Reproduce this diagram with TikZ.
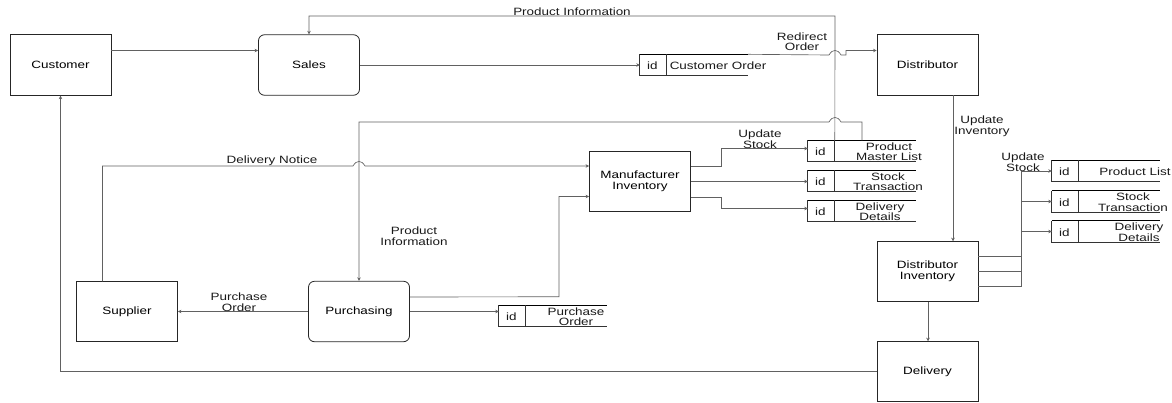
\documentclass[tikz,border=0pt]{standalone}
\usepackage{fontspec}
\setmainfont[FakeStretch=1.27]{Liberation Sans}
\usetikzlibrary{arrows.meta,calc}
\tikzset{
  lbl/.style={font=\fontsize{10.6}{10.3}\selectfont,align=center,inner sep=0pt,text=black!90,yshift=-0.8pt},
  proc/.style={draw=black!85,line width=0.8pt,minimum width=101pt,minimum height=60.5pt,inner sep=0pt,font=\fontsize{10.6}{10.5}\selectfont,align=center},
  rproc/.style={proc,rounded corners=6pt},
  storeframe/.style={minimum width=108pt,minimum height=21pt,inner sep=0pt},
  conn/.style={draw=black!62,line width=0.65pt},
  arr/.style={conn,-{Stealth[length=3.5pt,width=3.5pt]}}
}
% name, centre x, centre y, label centre x, label text
\newcommand{\datastore}[5]{%
  \node[storeframe] (#1) at (#2,#3) {};
  \draw[black!80,line width=0.8pt] (#1.north west) -- (#1.south west) -- (#1.south east);
  \draw[black,line width=1.2pt] (#1.north west) -- (#1.north east);
  \draw[black!80,line width=0.8pt] ([xshift=27pt]#1.north west) -- ([xshift=27pt]#1.south west);
  \node[lbl] (#1-id) at ($(#1.west)+(12.5,0)$) {id};
  \node[lbl] (#1-text) at (#4,#3) {#5};
}
\begin{document}
\begin{tikzpicture}[x=1pt,y=-1pt]
\useasboundingbox (0,0) rectangle (1172,402);
% process boxes
\node[proc] (customer) at (60.5,65) {Customer};
\node[rproc] (sales) at (309,65) {Sales};
\node[proc] (distributor) at (927.5,65) {Distributor};
\node[proc] (manuf) at (640,181.5) {Manufacturer\\Inventory};
\node[proc] (distinv) at (927.5,271.5) {Distributor\\Inventory};
\node[proc] (delivery) at (927.5,371.5) {Delivery};
\node[proc] (supplier) at (127,311.5) {Supplier};
\node[rproc] (purchasing) at (359,311.5) {Purchasing};
% data stores
\datastore{custorder}{694}{65}{718}{Customer Order}
\datastore{pml}{862}{151}{889}{Product\\Master List}
\datastore{mst}{862}{181}{888}{Stock\\Transaction}
\datastore{mdd}{862}{211}{880}{Delivery\\Details}
\datastore{pl}{1106}{171}{1135}{Product List}
\datastore{dst}{1106}{201.5}{1133}{Stock\\Transaction}
\datastore{ddd}{1106}{231.5}{1139}{Delivery\\Details}
\datastore{po}{553}{316}{576}{Purchase\\Order}
% connectors
\draw[arr] ([yshift=14.5pt]customer.east) -- ([yshift=14.5pt]sales.west);
\draw[arr] (sales.east) -- (sales.east -| custorder.west);
\draw[arr] ([xshift=27pt]pml.north west) -- (835,16) -- (309,16) -- (sales.north);
\draw[arr] (custorder.north east) -- (829,55) .. controls (831,51.5) and (833,50.5) .. (835,50.5) .. controls (837,50.5) and (839,51.5) .. (841,55) -- (846,55) -- (846,50.5) -- ([yshift=14.5pt]distributor.west);
\draw[arr] (pml.north) -- (862,122) -- (841,122) .. controls (839,118.5) and (837,117.5) .. (835,117.5) .. controls (833,117.5) and (831,118.5) .. (829,122) -- (359,122) -- (purchasing.north);
\draw[arr] (102.5,281.25) -- (102.5,166) -- (353,166) .. controls (355,162.5) and (357,161.5) .. (359,161.5) .. controls (361,161.5) and (363,162.5) .. (365,166) -- ([yshift=15.5pt]manuf.west);
\draw[arr] ([yshift=14.5pt]purchasing.east) -- (559,296.75) -- (559,196.5) -- ([yshift=-15pt]manuf.west);
\draw[arr] (purchasing.east) -- (purchasing.east -| po.west);
\draw[arr] (purchasing.west) -- (supplier.east);
\draw[arr] ([yshift=15.5pt]manuf.east) -- (721,166) -- (721,148.5) -- ([yshift=2.5pt]pml.west);
\draw[arr] (manuf.east) -- (manuf.east -| mst.west);
\draw[arr] ([yshift=-15.5pt]manuf.east) -- (721,197) -- (721,208.5) -- ([yshift=2.5pt]mdd.west);
\draw[arr] (953,95.25) -- (953,241.25);
\draw[arr] (928,301.75) -- (928,341.25);
\draw[arr] (delivery.west) -- (60.5,371.5) -- (customer.south);
\draw[conn] ([yshift=15.25pt]distinv.east) -- (1021,256.25);
\draw[conn] (distinv.east) -- (1021,271.5);
\draw[conn] ([yshift=-15.25pt]distinv.east) -- (1021,286.75) -- (1021,171);
\draw[arr] (1021,171) -- (pl.west);
\draw[arr] (1021,201.5) -- (dst.west);
\draw[arr] (1021,231.5) -- (ddd.west);
% labels
\node[lbl] (l1) at (572,10.5) {Product Information};
\node[lbl] (l2) at (802,41) {Redirect\\Order};
\node[lbl] (l3) at (760,138.5) {Update\\Stock};
\node[lbl] (l4) at (982,125.5) {Update\\Inventory};
\node[lbl] (l5) at (272,159.5) {Delivery Notice};
\node[lbl] (l6) at (414,235.5) {Product\\Information};
\node[lbl] (l7) at (239,301.5) {Purchase\\Order};
\node[lbl] (l8) at (1023,161.5) {Update\\Stock};
\end{tikzpicture}
\end{document}
